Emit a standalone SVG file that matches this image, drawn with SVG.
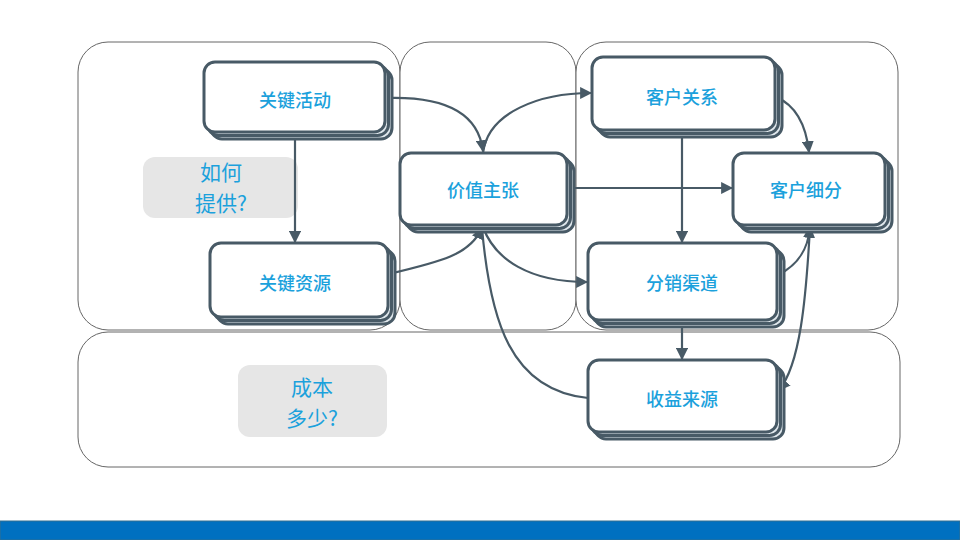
<svg xmlns="http://www.w3.org/2000/svg" width="960" height="540" viewBox="0 0 960 540">
<style>
.panel{fill:#fff;stroke:#666;stroke-width:1}
.node rect{stroke:#485a66;stroke-width:3}
.back{fill:#dfe7ec}
.front{fill:#fff}
.nt{font-family:"Noto Sans CJK SC","Liberation Sans",sans-serif;font-size:18px;fill:#1ba1dc;text-anchor:middle;font-weight:500}
.lab rect{fill:#e6e6e6}
.lt{font-family:"Noto Sans CJK SC","Liberation Sans",sans-serif;font-size:21px;fill:#1ba1dc;text-anchor:middle}
.con path{fill:none;stroke:#485a66;stroke-width:2.2}
</style>
<defs>
<marker id="ah" viewBox="0 0 10 10" refX="9" refY="5" markerWidth="5.5" markerHeight="5.5" orient="auto" markerUnits="strokeWidth">
<path d="M0,0 L10,5 L0,10 z" fill="#485a66"/>
</marker>
</defs>
<rect width="960" height="540" fill="#fff"/>
<g id="panels">
<rect class="panel" x="78" y="42" width="322" height="288" rx="30"/>
<rect class="panel" x="400" y="42" width="176" height="288" rx="30"/>
<rect class="panel" x="576" y="42" width="322" height="288" rx="30"/>
<rect class="panel" x="78" y="332" width="822" height="135" rx="30"/>
</g>
<g id="label-how" class="lab">
<rect x="143" y="157" width="155" height="61" rx="12"/>
<text class="lt" x="221" y="180">如何</text>
<text class="lt" x="221" y="211">提供?</text>
</g>
<g id="label-cost" class="lab">
<rect x="238" y="365" width="149" height="72" rx="12"/>
<text class="lt" x="312" y="395">成本</text>
<text class="lt" x="312" y="426">多少?</text>
</g>
<g id="connectors" class="con">
<path d="M385,98 C440,96 478,110 483,151" marker-end="url(#ah)"/>
<path d="M483,153 C488,112 540,93 591,93" marker-end="url(#ah)"/>
<path d="M776,97 C795,105 806,125 809,152" marker-end="url(#ah)"/>
<path d="M567,188 L732,188" marker-end="url(#ah)"/>
<path d="M682,131 L682,242" marker-end="url(#ah)"/>
<path d="M295,133 L295,242" marker-end="url(#ah)"/>
<path d="M389,274 C440,262 470,255 482,228" marker-end="url(#ah)"/>
<path d="M483,227 C495,260 530,282 587,282" marker-end="url(#ah)"/>
<path d="M482,228 C490,320 510,390 588,398"/>
<path d="M682,321 L682,359" marker-end="url(#ah)"/>
<path d="M778,275 C798,265 808,250 810,227" marker-end="url(#ah)"/>
<path d="M810,227 C806,300 800,365 779,390" marker-end="url(#ah)"/>
</g>
<g id="n-key-activities" class="node">
<rect class="back" x="211" y="69" width="181" height="70" rx="11"/>
<rect class="back" x="207.5" y="65.5" width="181" height="70" rx="11"/>
<rect class="front" x="204" y="62" width="181" height="70" rx="11"/>
<text class="nt" x="295" y="107">关键活动</text>
</g>
<g id="n-customer-relationships" class="node">
<rect class="back" x="599" y="64" width="183" height="73" rx="11"/>
<rect class="back" x="595.5" y="60.5" width="183" height="73" rx="11"/>
<rect class="front" x="592" y="57" width="183" height="73" rx="11"/>
<text class="nt" x="682" y="104">客户关系</text>
</g>
<g id="n-value-proposition" class="node">
<rect class="back" x="407" y="160" width="167" height="72" rx="11"/>
<rect class="back" x="403.5" y="156.5" width="167" height="72" rx="11"/>
<rect class="front" x="400" y="153" width="167" height="72" rx="11"/>
<text class="nt" x="483" y="197">价值主张</text>
</g>
<g id="n-customer-segments" class="node">
<rect class="back" x="740" y="160" width="152" height="72" rx="11"/>
<rect class="back" x="736.5" y="156.5" width="152" height="72" rx="11"/>
<rect class="front" x="733" y="153" width="152" height="72" rx="11"/>
<text class="nt" x="806" y="197">客户细分</text>
</g>
<g id="n-key-resources" class="node">
<rect class="back" x="217" y="250" width="178" height="74" rx="11"/>
<rect class="back" x="213.5" y="246.5" width="178" height="74" rx="11"/>
<rect class="front" x="210" y="243" width="178" height="74" rx="11"/>
<text class="nt" x="295" y="290">关键资源</text>
</g>
<g id="n-channels" class="node">
<rect class="back" x="595" y="250" width="189" height="77" rx="11"/>
<rect class="back" x="591.5" y="246.5" width="189" height="77" rx="11"/>
<rect class="front" x="588" y="243" width="189" height="77" rx="11"/>
<text class="nt" x="682" y="290">分销渠道</text>
</g>
<g id="n-revenue" class="node">
<rect class="back" x="595" y="367" width="189" height="72" rx="11"/>
<rect class="back" x="591.5" y="363.5" width="189" height="72" rx="11"/>
<rect class="front" x="588" y="360" width="189" height="72" rx="11"/>
<text class="nt" x="682" y="406">收益来源</text>
</g>
<rect id="footer-bar" x="0" y="521" width="960" height="19" fill="#0070c0" stroke="#336e8f" stroke-width="1"/>
</svg>
